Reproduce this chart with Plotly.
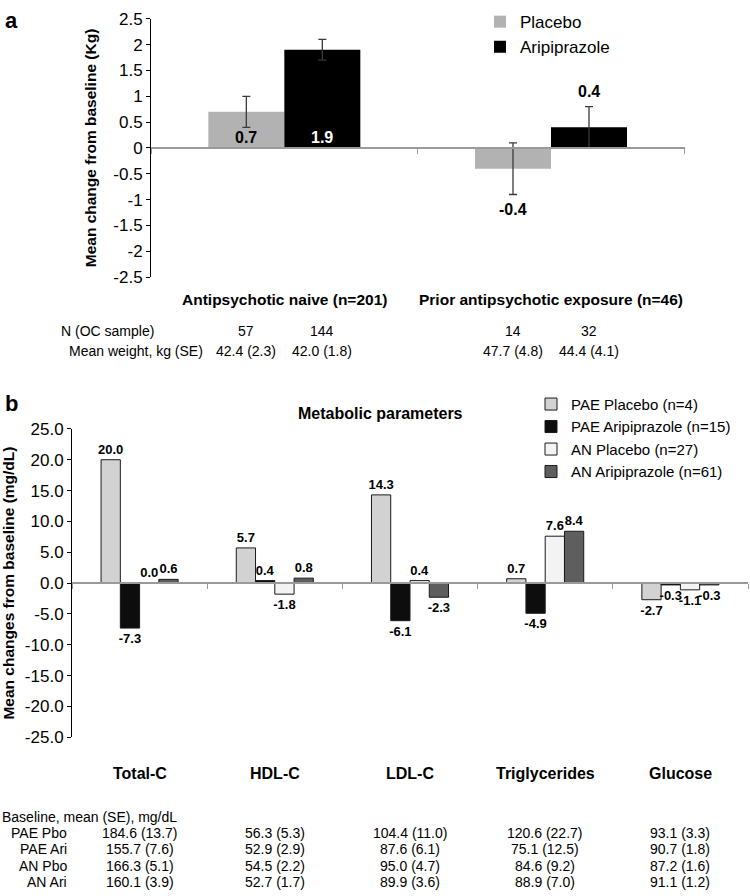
import plotly.graph_objects as go

# ---------------- data: panel a ----------------
a_categories = ["Antipsychotic naive (n=201)", "Prior antipsychotic exposure (n=46)"]
a_series = ["Placebo", "Aripiprazole"]
a_placebo = [0.7, -0.4]
a_placebo_err = [0.3, 0.5]
a_aripiprazole = [1.9, 0.4]
a_aripiprazole_err = [0.2, 0.4]
a_ticks = [2.5, 2, 1.5, 1, 0.5, 0, -0.5, -1, -1.5, -2, -2.5]
a_n_label = "N (OC sample)"
a_weight_label = "Mean weight, kg (SE)"
a_n = [["57", "144"], ["14", "32"]]
a_weight = [["42.4 (2.3)", "42.0 (1.8)"], ["47.7 (4.8)", "44.4 (4.1)"]]

# ---------------- data: panel b ----------------
b_categories = ["Total-C", "HDL-C", "LDL-C", "Triglycerides", "Glucose"]
b_series = ["PAE Placebo (n=4)", "PAE Aripiprazole (n=15)", "AN Placebo (n=27)", "AN Aripiprazole (n=61)"]
b_pae_placebo = [20.0, 5.7, 14.3, 0.7, -2.7]
b_pae_ari = [-7.3, 0.4, -6.1, -4.9, -0.3]
b_an_placebo = [0.0, -1.8, 0.4, 7.6, -1.1]
b_an_ari = [0.6, 0.8, -2.3, 8.4, -0.3]
b_ticks = [25, 20, 15, 10, 5, 0, -5, -10, -15, -20, -25]
b_base_header = "Baseline, mean (SE), mg/dL"
b_base_rows = ["PAE Pbo", "PAE Ari", "AN Pbo", "AN Ari"]
b_base_pae_pbo = ["184.6 (13.7)", "56.3 (5.3)", "104.4 (11.0)", "120.6 (22.7)", "93.1 (3.3)"]
b_base_pae_ari = ["155.7 (7.6)", "52.9 (2.9)", "87.6 (6.1)", "75.1 (12.5)", "90.7 (1.8)"]
b_base_an_pbo = ["166.3 (5.1)", "54.5 (2.2)", "95.0 (4.7)", "84.6 (9.2)", "87.2 (1.6)"]
b_base_an_ari = ["160.1 (3.9)", "52.7 (1.7)", "89.9 (3.6)", "88.9 (7.0)", "91.1 (1.2)"]

# ---------------- layout helpers ----------------
W, H = 750, 896
def px(x):
    return x / W
def py(y):
    return 1 - y / H

FONT = "Liberation Sans, Arial, sans-serif"
TABLE_SIZE = 14

fig = go.Figure()

# panel a geometry
a_xdom = [px(151), px(685)]
a_ydom = [py(274), py(10)]
a_range = [-2.5, 2.5]
a_gap = 0.43
# panel b geometry
b_xdom = [px(72), px(748)]
b_ydom = [py(744), py(429)]
b_range = [-25, 25]

def zero_pos(dom, rng):
    return dom[0] + (0 - rng[0]) / (rng[1] - rng[0]) * (dom[1] - dom[0])

# ---------------- panel a traces ----------------
a_vals = [a_placebo, a_aripiprazole]
a_errs = [a_placebo_err, a_aripiprazole_err]
a_colors = ["#b2b2b2", "#000000"]
for name, vals, errs, col in zip(a_series, a_vals, a_errs, a_colors):
    fig.add_trace(go.Bar(
        x=a_categories, y=vals, name=name, xaxis="x", yaxis="y",
        marker=dict(color=col, line=dict(width=0)),
        error_y=dict(type="data", array=errs, visible=True, color="#3a3a3a", thickness=1.3, width=4),
        legend="legend",
    ))

# ---------------- panel b traces ----------------
b_vals = [b_pae_placebo, b_pae_ari, b_an_placebo, b_an_ari]
b_colors = ["#d2d2d2", "#0d0d0d", "#f3f3f3", "#5e5e5e"]
for name, vals, col in zip(b_series, b_vals, b_colors):
    fig.add_trace(go.Bar(
        x=b_categories, y=vals, name=name, xaxis="x2", yaxis="y2",
        marker=dict(color=col, line=dict(width=1, color="#1a1a1a")),
        text=[f"{v:.1f}" for v in vals], textposition="outside",
        textfont=dict(size=13, family=FONT, color="#000", weight="bold"),
        constraintext="none", cliponaxis=False,
        legend="legend2",
    ))

annotations = []
def ann(**kw):
    kw.setdefault("showarrow", False)
    kw.setdefault("xanchor", "center")
    kw.setdefault("yanchor", "middle")
    annotations.append(kw)

# panel a labels
bw_a = (1 - a_gap) / len(a_series)
for k, (vals, errs) in enumerate(zip(a_vals, a_errs)):
    off = (k - (len(a_series) - 1) / 2) * bw_a
    for i, (v, e) in enumerate(zip(vals, errs)):
        txt = f"{v:.1f}"
        if abs(v) >= 0.5:
            ann(x=i + off, y=0, xref="x", yref="y", text=f"<b>{txt}</b>", yanchor="bottom", yshift=0,
                font=dict(size=16, color="#ffffff" if a_colors[k] == "#000000" else "#000"))
        else:
            s = 1 if v >= 0 else -1
            ann(x=i + off, y=v + s * e, xref="x", yref="y", text=f"<b>{txt}</b>",
                yanchor="bottom" if s > 0 else "top", yshift=5 * s, font=dict(size=16, color="#000"))
        ann(x=i + off, y=py(329), xref="x", yref="paper", text=a_n[i][k], font=dict(size=TABLE_SIZE))
        ann(x=i + off, y=py(349), xref="x", yref="paper", text=a_weight[i][k], font=dict(size=TABLE_SIZE))
for i, c in enumerate(a_categories):
    ann(x=i, y=py(297), xref="x", yref="paper", text=f"<b>{c}</b>", font=dict(size=15.5))
ann(x=px(59), y=py(329), xref="paper", yref="paper", text=a_n_label, xanchor="left", font=dict(size=TABLE_SIZE))
ann(x=px(67), y=py(349), xref="paper", yref="paper", text=a_weight_label, xanchor="left", font=dict(size=TABLE_SIZE))

# panel letters and title
ann(x=px(3), y=py(12), xref="paper", yref="paper", text="<b>a</b>", xanchor="left", font=dict(size=22))
ann(x=px(3), y=py(403), xref="paper", yref="paper", text="<b>b</b>", xanchor="left", font=dict(size=22))
ann(x=px(380), y=py(413), xref="paper", yref="paper", text="<b>Metabolic parameters</b>", font=dict(size=16))

# panel b category labels and baseline table
for i, c in enumerate(b_categories):
    ann(x=i, y=py(781), xref="x2", yref="paper", text=f"<b>{c}</b>", font=dict(size=16))
ann(x=px(0), y=py(825), xref="paper", yref="paper", text=b_base_header, xanchor="left", font=dict(size=TABLE_SIZE))
for r, (lab, row) in enumerate(zip(b_base_rows, [b_base_pae_pbo, b_base_pae_ari, b_base_an_pbo, b_base_an_ari])):
    yy = py(842 + 16.7 * r)
    ann(x=px(69), y=yy, xref="paper", yref="paper", text=lab, xanchor="right", font=dict(size=TABLE_SIZE))
    for i, t in enumerate(row):
        ann(x=i, y=yy, xref="x2", yref="paper", text=t, font=dict(size=TABLE_SIZE))

fig.update_layout(
    width=W, height=H,
    margin=dict(l=0, r=0, t=0, b=0),
    paper_bgcolor="white", plot_bgcolor="white",
    font=dict(family=FONT, color="#000", size=14),
    barmode="group",
    showlegend=True,
    annotations=annotations,
    xaxis=dict(domain=a_xdom, anchor="free", position=zero_pos(a_ydom, a_range),
               showline=True, linecolor="#9a9a9a", linewidth=1.5, ticks="outside", tickson="boundaries",
               ticklen=5, tickcolor="#9a9a9a", showticklabels=False, showgrid=False),
    yaxis=dict(domain=a_ydom, anchor="x", range=a_range, tickvals=a_ticks,
               ticktext=[f"{v:g}" for v in a_ticks], showline=True, linecolor="#000", linewidth=1,
               ticks="outside", ticklen=4, tickcolor="#000", showgrid=False, zeroline=False,
               tickfont=dict(size=17),
               title=dict(text="<b>Mean change from baseline (Kg)</b>", font=dict(size=15.5), standoff=12)),
    xaxis2=dict(domain=b_xdom, anchor="free", position=zero_pos(b_ydom, b_range),
                showline=True, linecolor="#9a9a9a", linewidth=1.5, ticks="outside", tickson="boundaries",
                ticklen=5, tickcolor="#9a9a9a", showticklabels=False, showgrid=False),
    yaxis2=dict(domain=b_ydom, anchor="x2", range=b_range, tickvals=b_ticks,
                ticktext=[f"{v:.1f}" for v in b_ticks], showline=True, linecolor="#000", linewidth=1,
                ticks="outside", ticklen=4, tickcolor="#000", showgrid=False, zeroline=False,
                tickfont=dict(size=17),
                title=dict(text="<b>Mean changes from baseline (mg/dL)</b>", font=dict(size=15.5), standoff=8)),
    bargap=a_gap,
    legend=dict(x=px(480), y=py(-5), xanchor="left", yanchor="top", font=dict(size=17),
                bgcolor="rgba(0,0,0,0)", itemwidth=30, tracegroupgap=0),
    legend2=dict(x=px(531), y=py(387), xanchor="left", yanchor="top", font=dict(size=15),
                 bgcolor="rgba(0,0,0,0)", itemwidth=30, tracegroupgap=0),
)

fig.write_html("out.html", config={"displayModeBar": False},
               post_script="document.body.style.margin='0px';")
